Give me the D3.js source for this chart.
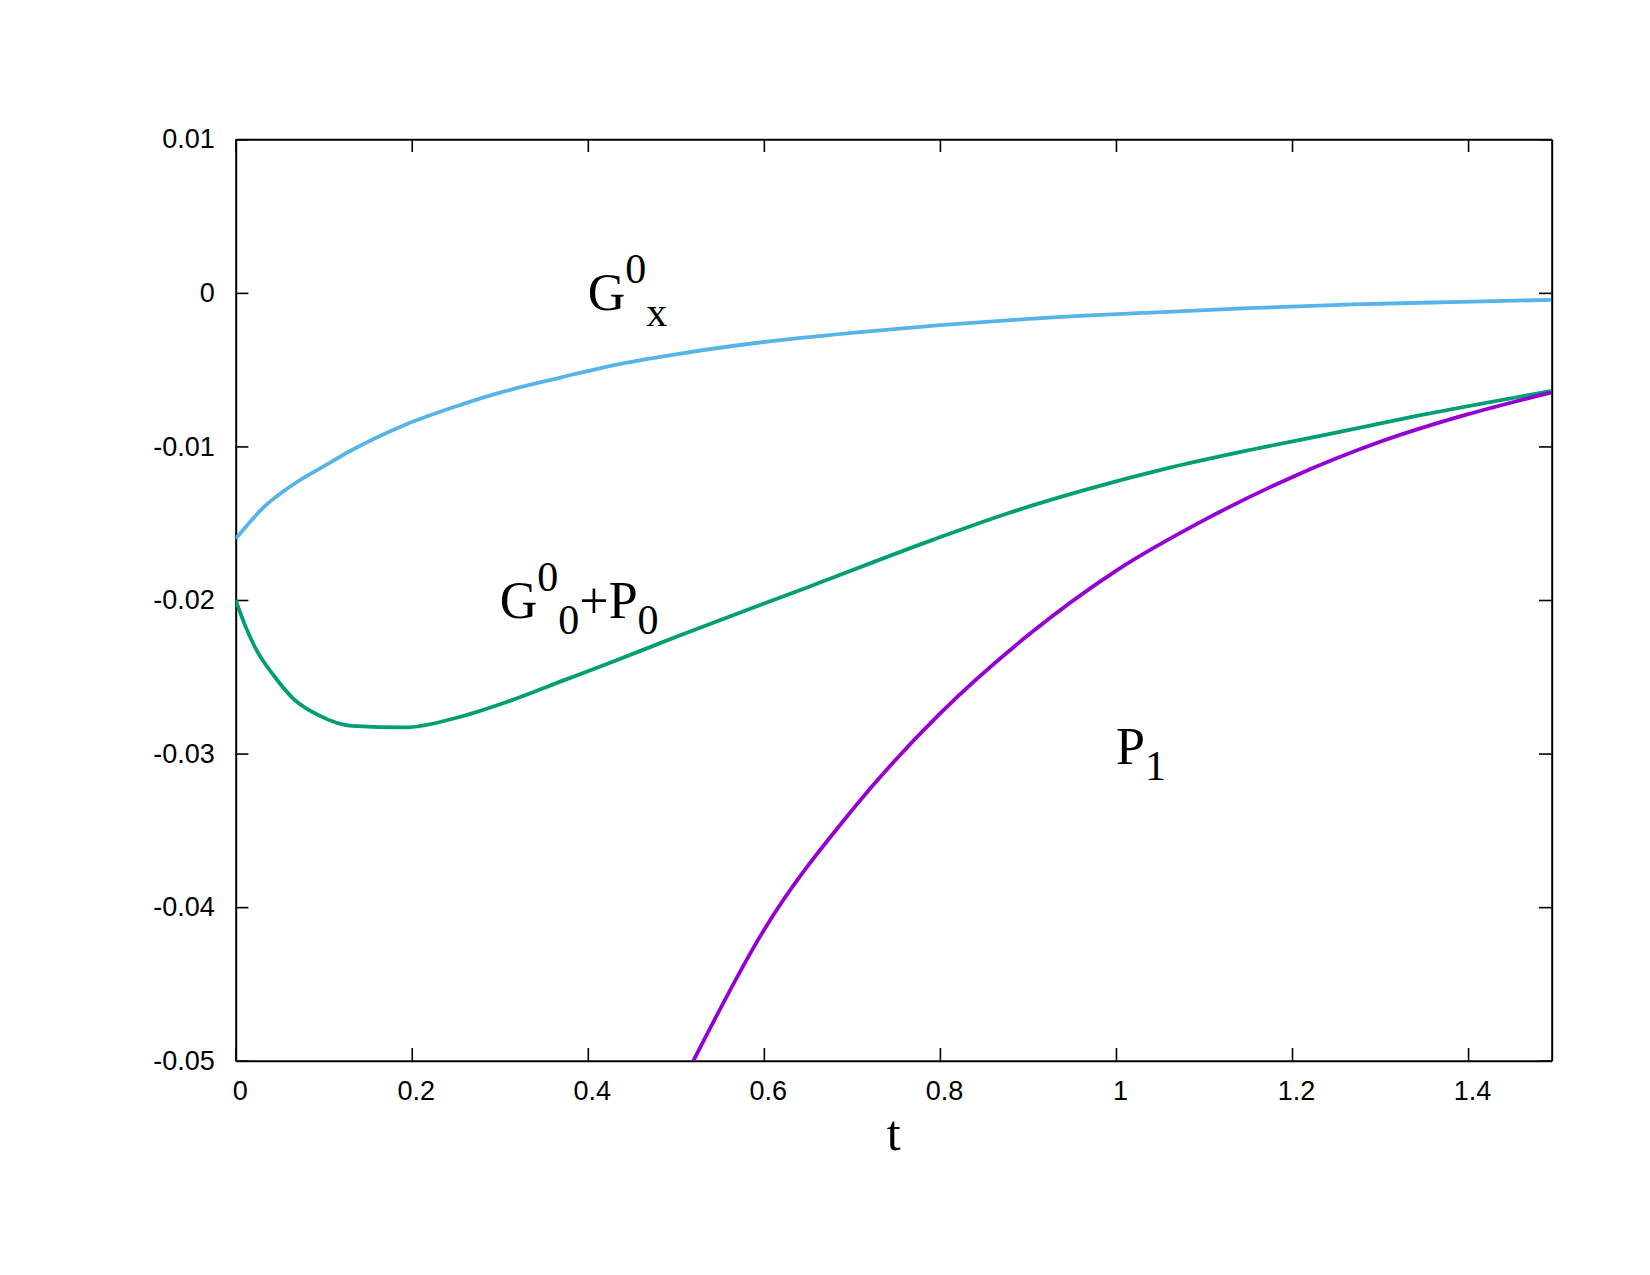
<!DOCTYPE html>
<html>
<head>
<meta charset="utf-8">
<script src="https://cdn.jsdelivr.net/npm/d3@7"></script>
<style>
    body { margin: 0; background: #fff; }
    .tick text { font-family: "Liberation Sans", Arial, sans-serif; font-size: 27px; fill: #000; }
    .lbl { font-family: "Liberation Serif", "Times New Roman", serif; fill: #000; }
</style>
</head>
<body>
<div class="chart"></div>
<script>
// G^0_x
let gx_t = [0, 0.015, 0.031, 0.05, 0.07, 0.1, 0.13, 0.19, 0.25, 0.3, 0.37, 0.43, 0.5, 0.6, 0.7, 0.8, 0.9, 1.04, 1.15, 1.27, 1.38, 1.494]
let gx_v = [-0.0160, -0.0150, -0.0140, -0.0131, -0.0123, -0.0113, -0.0103, -0.00865, -0.0074, -0.0065, -0.0055, -0.0047, -0.0040, -0.0032, -0.0026, -0.0021, -0.0017, -0.00128, -0.00100, -0.00075, -0.0006, -0.00046]

// G^0_0 + P_0
let gp_t = [0, 0.011, 0.024, 0.043, 0.065, 0.094, 0.132, 0.192, 0.249, 0.31, 0.374, 0.429, 0.505, 0.653, 0.791, 0.88, 0.967, 1.06, 1.155, 1.25, 1.343, 1.494]
let gp_v = [-0.0200, -0.0217, -0.0233, -0.0249, -0.0264, -0.0275, -0.0282, -0.0283, -0.0277, -0.0266, -0.0252, -0.0240, -0.0223, -0.0191, -0.0161, -0.0143, -0.0128, -0.0114, -0.0102, -0.0091, -0.0080, -0.0064]

// P_1
let p1_t = [0.52, 0.6, 0.7, 0.8, 0.9, 1.0, 1.1, 1.2, 1.3, 1.4, 1.494]
let p1_v = [-0.0500, -0.0415, -0.0337, -0.0274, -0.0223, -0.0181, -0.0148, -0.0120, -0.0097, -0.0079, -0.0065]

let x_ticks = [0, 0.2, 0.4, 0.6, 0.8, 1, 1.2, 1.4]
let y_ticks = [0.01, 0, -0.01, -0.02, -0.03, -0.04, -0.05]
let x_domain = [0, 1.495]
let y_domain = [-0.05, 0.01]

let W = 1650, H = 1275
let margin = {top: 139.3, right: W - 1551.7, bottom: H - 1060.7, left: 235.7},
    width = W - margin.left - margin.right,
    height = H - margin.top - margin.bottom;

let svg = d3.select(".chart")
    .append("svg")
    .attr("width", W)
    .attr("height", H)
    .style("background", "#fff")
    .append("g")
    .attr("transform", "translate(" + margin.left + "," + margin.top + ")");

let x = d3.scaleLinear().domain(x_domain).range([0, width])
let y = d3.scaleLinear().domain(y_domain).range([height, 0])

let fmt = d => String(+d.toFixed(2))
let tickLen = -12.7

// bottom + left with labels, top + right mirrored ticks only
let bottom = svg.append("g")
    .attr("transform", "translate(0," + height + ")")
    .call(d3.axisBottom(x).tickValues(x_ticks).tickFormat(fmt).tickSizeInner(tickLen).tickSizeOuter(0).tickPadding(20))
bottom.selectAll("text").attr("dx", 4)

svg.append("g")
    .call(d3.axisLeft(y).tickValues(y_ticks).tickFormat(fmt).tickSizeInner(tickLen).tickSizeOuter(0).tickPadding(21))

svg.append("g")
    .call(d3.axisTop(x).tickValues(x_ticks).tickFormat("").tickSizeInner(tickLen).tickSizeOuter(0))

svg.append("g")
    .attr("transform", "translate(" + width + ",0)")
    .call(d3.axisRight(y).tickValues(y_ticks).tickFormat("").tickSizeInner(tickLen).tickSizeOuter(0))

svg.selectAll(".domain").attr("stroke", "#000").attr("stroke-width", 2)
svg.selectAll(".tick line").attr("stroke", "#000").attr("stroke-width", 1.6)

// curves
svg.append("clipPath").attr("id", "clip")
    .append("rect").attr("width", width).attr("height", height)

let line = d3.line()
    .x(d => x(d[0]))
    .y(d => y(d[1]))
    .curve(d3.curveMonotoneX)

let series = [
    {t: gx_t, v: gx_v, color: "#56b4e9"},
    {t: gp_t, v: gp_v, color: "#009e73"},
    {t: p1_t, v: p1_v, color: "#9400d3"}
]

series.forEach(s => {
    svg.append("path")
        .datum(s.t.map((t, i) => [t, s.v[i]]))
        .attr("clip-path", "url(#clip)")
        .attr("fill", "none")
        .attr("stroke", s.color)
        .attr("stroke-width", 3.8)
        .attr("stroke-linejoin", "round")
        .attr("d", line)
})

// curve labels: [text, -1 sup / 0 normal / 1 sub], placed in data coords
let labels = [
    {t: 0.4, v: -0.0011, parts: [["G", 0], ["0", -1], ["x", 1]]},
    {t: 0.3, v: -0.02117, parts: [["G", 0], ["0", -1], ["0", 1], ["+P", 0], ["0", 1]]},
    {t: 1.0, v: -0.0307, parts: [["P", 0], ["1", 1]]}
]

labels.forEach(l => {
    let txt = svg.append("text")
        .attr("class", "lbl")
        .attr("x", x(l.t))
        .attr("y", y(l.v))
        .style("font-size", "52px")
    let cur = 0
    l.parts.forEach(p => {
        let target = p[1] == -1 ? -27 : (p[1] == 1 ? 16 : 0)
        txt.append("tspan")
            .attr("dy", target - cur)
            .style("font-size", p[1] == 0 ? "52px" : "42px")
            .text(p[0])
        cur = target
    })
})

svg.append("text")
    .attr("class", "lbl")
    .attr("x", width / 2)
    .attr("y", 1150 - margin.top)
    .style("text-anchor", "middle")
    .style("font-size", "50px")
    .text("t")
</script>
</body>
</html>
